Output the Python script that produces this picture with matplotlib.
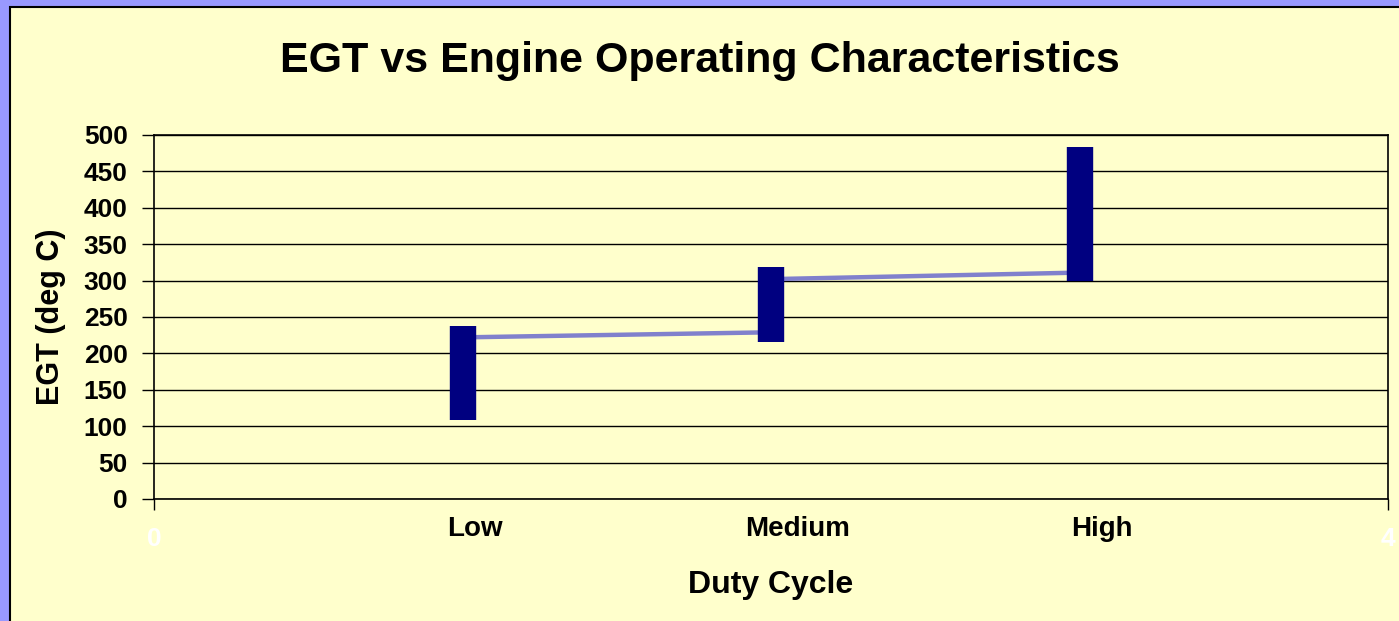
import matplotlib.pyplot as plt
from matplotlib.patches import Rectangle
from matplotlib.transforms import ScaledTranslation

# data
duty = ['Low', 'Medium', 'High']
xpos = [1, 2, 3]
egt_low = [108, 216, 300]
egt_high = [237, 318, 483]
# connecting lines
line1_x = [1, 2]
line1_y = [222, 229]
line2_x = [2, 3]
line2_y = [302, 311]

plt.rcParams['font.family'] = ['Liberation Sans', 'DejaVu Sans']
plt.rcParams['font.weight'] = 'bold'

fig = plt.figure(figsize=(13.99, 6.21), dpi=100)
fig.patch.set_facecolor('#9999FF')
# yellow panel with black edge
fig.patches.append(Rectangle((10 / 1399, -0.01), 1.0, 1 - 7 / 621 + 0.01,
                             transform=fig.transFigure, facecolor='#FFFFCC',
                             edgecolor='black', linewidth=1.5, zorder=-10))

ax = fig.add_axes([154 / 1399, 1 - 499 / 621, (1388 - 154) / 1399, (499 - 135) / 621])
ax.set_zorder(1)
ax.set_facecolor('#FFFFCC')
ax.set_xlim(0, 4)
ax.set_ylim(0, 500)
ax.set_yticks(range(0, 501, 50))
ax.yaxis.grid(True, color='black', linewidth=1)
ax.set_axisbelow(True)
for s in ax.spines.values():
    s.set_color('black')
    s.set_linewidth(1.2)

ax.plot(line1_x, line1_y, color='#8080CC', linewidth=3.2, zorder=2)
ax.plot(line2_x, line2_y, color='#8080CC', linewidth=3.2, zorder=2)
ax.vlines(xpos, egt_low, egt_high, color='#000080', linewidth=19, zorder=3)

# 0 and 4 in white at the ends, categories as minor ticks
ax.set_xticks([0, 4])
ax.set_xticklabels(['0', '4'], fontsize=19, fontweight='bold', color='white')
ax.set_xticks(xpos, minor=True)
ax.set_xticklabels(duty, minor=True, fontsize=20, fontweight='bold')
ax.tick_params(axis='x', which='major', length=8, width=1, pad=12)
ax.tick_params(axis='x', which='minor', length=0, pad=12)
ax.tick_params(axis='y', length=9, width=1, labelsize=19, pad=10)

# category labels sit a little right of their bars in the original
for lab, dx in zip(ax.get_xticklabels(minor=True), [12, 27, 22]):
    lab.set_transform(lab.get_transform() + ScaledTranslation(dx / 100, 0, fig.dpi_scale_trans))

fig.text(0.5, 1 - 61 / 621, 'EGT vs Engine Operating Characteristics',
         fontsize=31, fontweight='bold', ha='center', va='center')
fig.text((154 + 1388) / 2 / 1399, 1 - 585 / 621, 'Duty Cycle',
         fontsize=23, fontweight='bold', ha='center', va='center')
fig.text(51 / 1399, 1 - 317 / 621, 'EGT (deg C)', rotation=90,
         fontsize=22, fontweight='bold', ha='center', va='center')

fig.savefig('out.png', dpi=100, facecolor=fig.get_facecolor())
